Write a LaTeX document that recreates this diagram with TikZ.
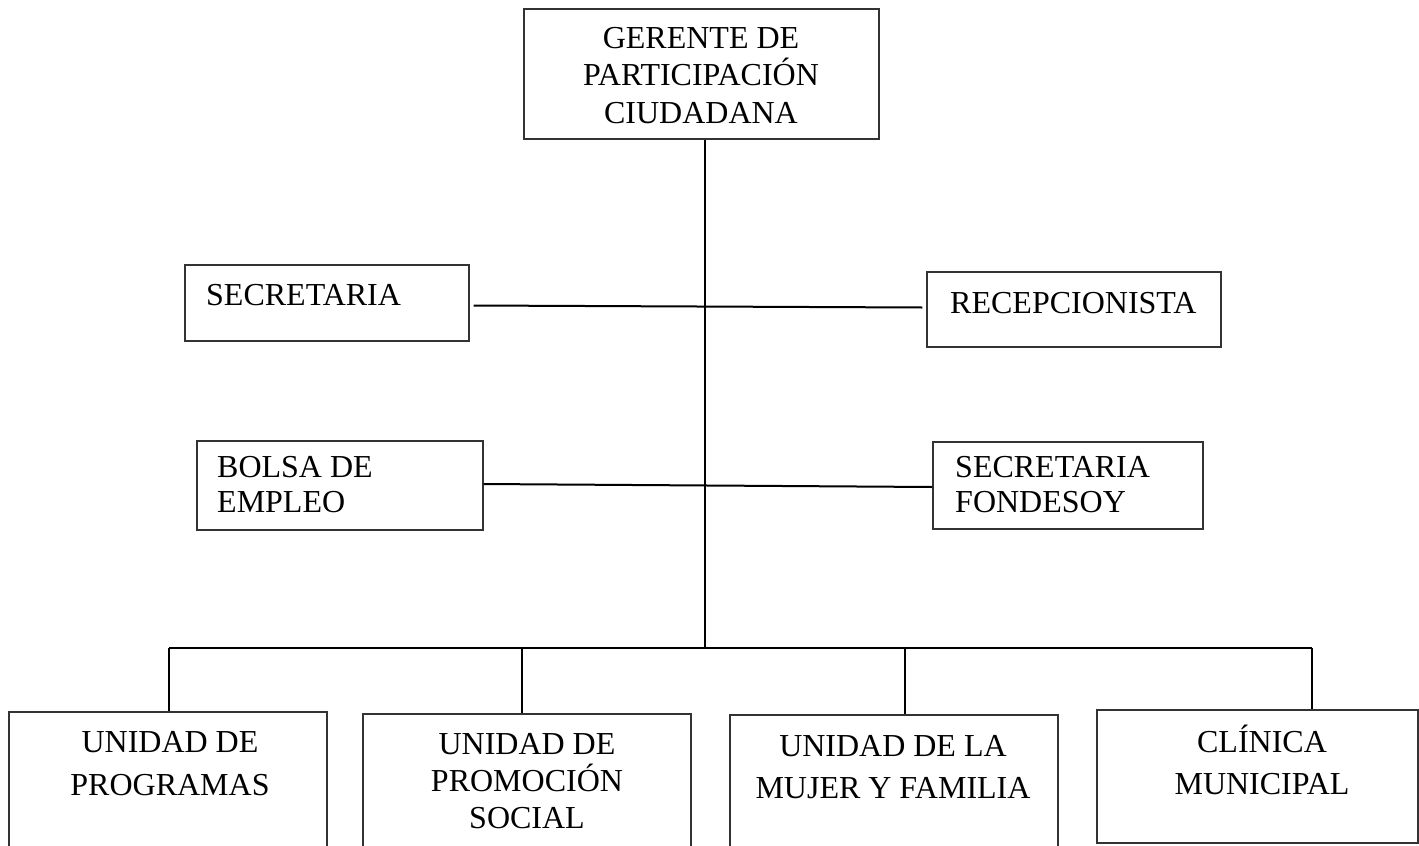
\documentclass[tikz,border=0pt]{standalone}
\usepackage{fontspec}
\setmainfont{Liberation Serif}
\begin{document}
\begin{tikzpicture}[x=1pt,y=-1pt,
  box/.style={draw=black!80, line width=1.2pt, rectangle, inner sep=0pt},
  link/.style={draw=black, line width=2pt},
  lbl/.style={inner sep=0pt, font=\fontsize{32}{37.5}\selectfont},
  lblc/.style={lbl, align=center, anchor=base},
  lbll/.style={lbl, align=left, anchor=base west}]
\useasboundingbox (0,0) rectangle (1419,846);
% boxes
\node[box, minimum width=355pt, minimum height=130pt] (top) at (701.5,74) {};
\node[box, minimum width=284pt, minimum height=76pt] (sec) at (327,303) {};
\node[box, minimum width=294pt, minimum height=75pt] (rec) at (1074,309.5) {};
\node[box, minimum width=286pt, minimum height=89pt] (bolsa) at (340,485.5) {};
\node[box, minimum width=270pt, minimum height=87pt] (fond) at (1068,485.5) {};
\node[box, minimum width=318pt, minimum height=138pt] (u1) at (168,781) {};
\node[box, minimum width=328pt, minimum height=136pt] (u2) at (527,782) {};
\node[box, minimum width=328pt, minimum height=135pt] (u3) at (894,782.5) {};
\node[box, minimum width=321pt, minimum height=133pt] (u4) at (1257.5,776.5) {};
% texts (anchored at the baseline of the last line)
\node[lblc] (ttop) at (701,123) {GERENTE DE\\PARTICIPACIÓN\\CIUDADANA};
\node[lbll] (tsec) at (206,305) {SECRETARIA};
\node[lbll] (trec) at (950,313) {RECEPCIONISTA};
\node[lbll, font=\fontsize{32}{35}\selectfont] (tbolsa) at (217,512) {BOLSA DE\\EMPLEO};
\node[lbll, font=\fontsize{32}{35}\selectfont] (tfond) at (955,512) {SECRETARIA\\FONDESOY};
\node[lblc, font=\fontsize{32}{43}\selectfont] (tu1) at (170,795) {UNIDAD DE\\PROGRAMAS};
\node[lblc, font=\fontsize{32}{37}\selectfont] (tu2) at (527,828) {UNIDAD DE\\PROMOCIÓN\\SOCIAL};
\node[lblc, font=\fontsize{32}{42}\selectfont] (tu3) at (893,798) {UNIDAD DE LA\\MUJER Y FAMILIA};
\node[lblc, font=\fontsize{32}{42}\selectfont] (tu4) at (1262,794) {CLÍNICA\\MUNICIPAL};
% connectors
\coordinate (trunk) at (705,648);
\coordinate (busL) at (169,648);
\coordinate (busR) at (1312,648);
\coordinate (b2) at (522,648);
\coordinate (b3) at (905,648);
\draw[link] (top.south -| trunk) -- (trunk);
\draw[link] (busL) -- (busR);
\draw[link] (busL) -- (busL |- u1.north);
\draw[link] (b2) -- (b2 |- u2.north);
\draw[link] (b3) -- (b3 |- u3.north);
\draw[link] (busR) -- (busR |- u4.north);
\draw[link] ([shift={(4,2.5)}]sec.east) -- ([shift={(-4,-2)}]rec.west);
\draw[link] ([shift={(0,-1.5)}]bolsa.east) -- ([shift={(0,1.5)}]fond.west);
\end{tikzpicture}
\end{document}
